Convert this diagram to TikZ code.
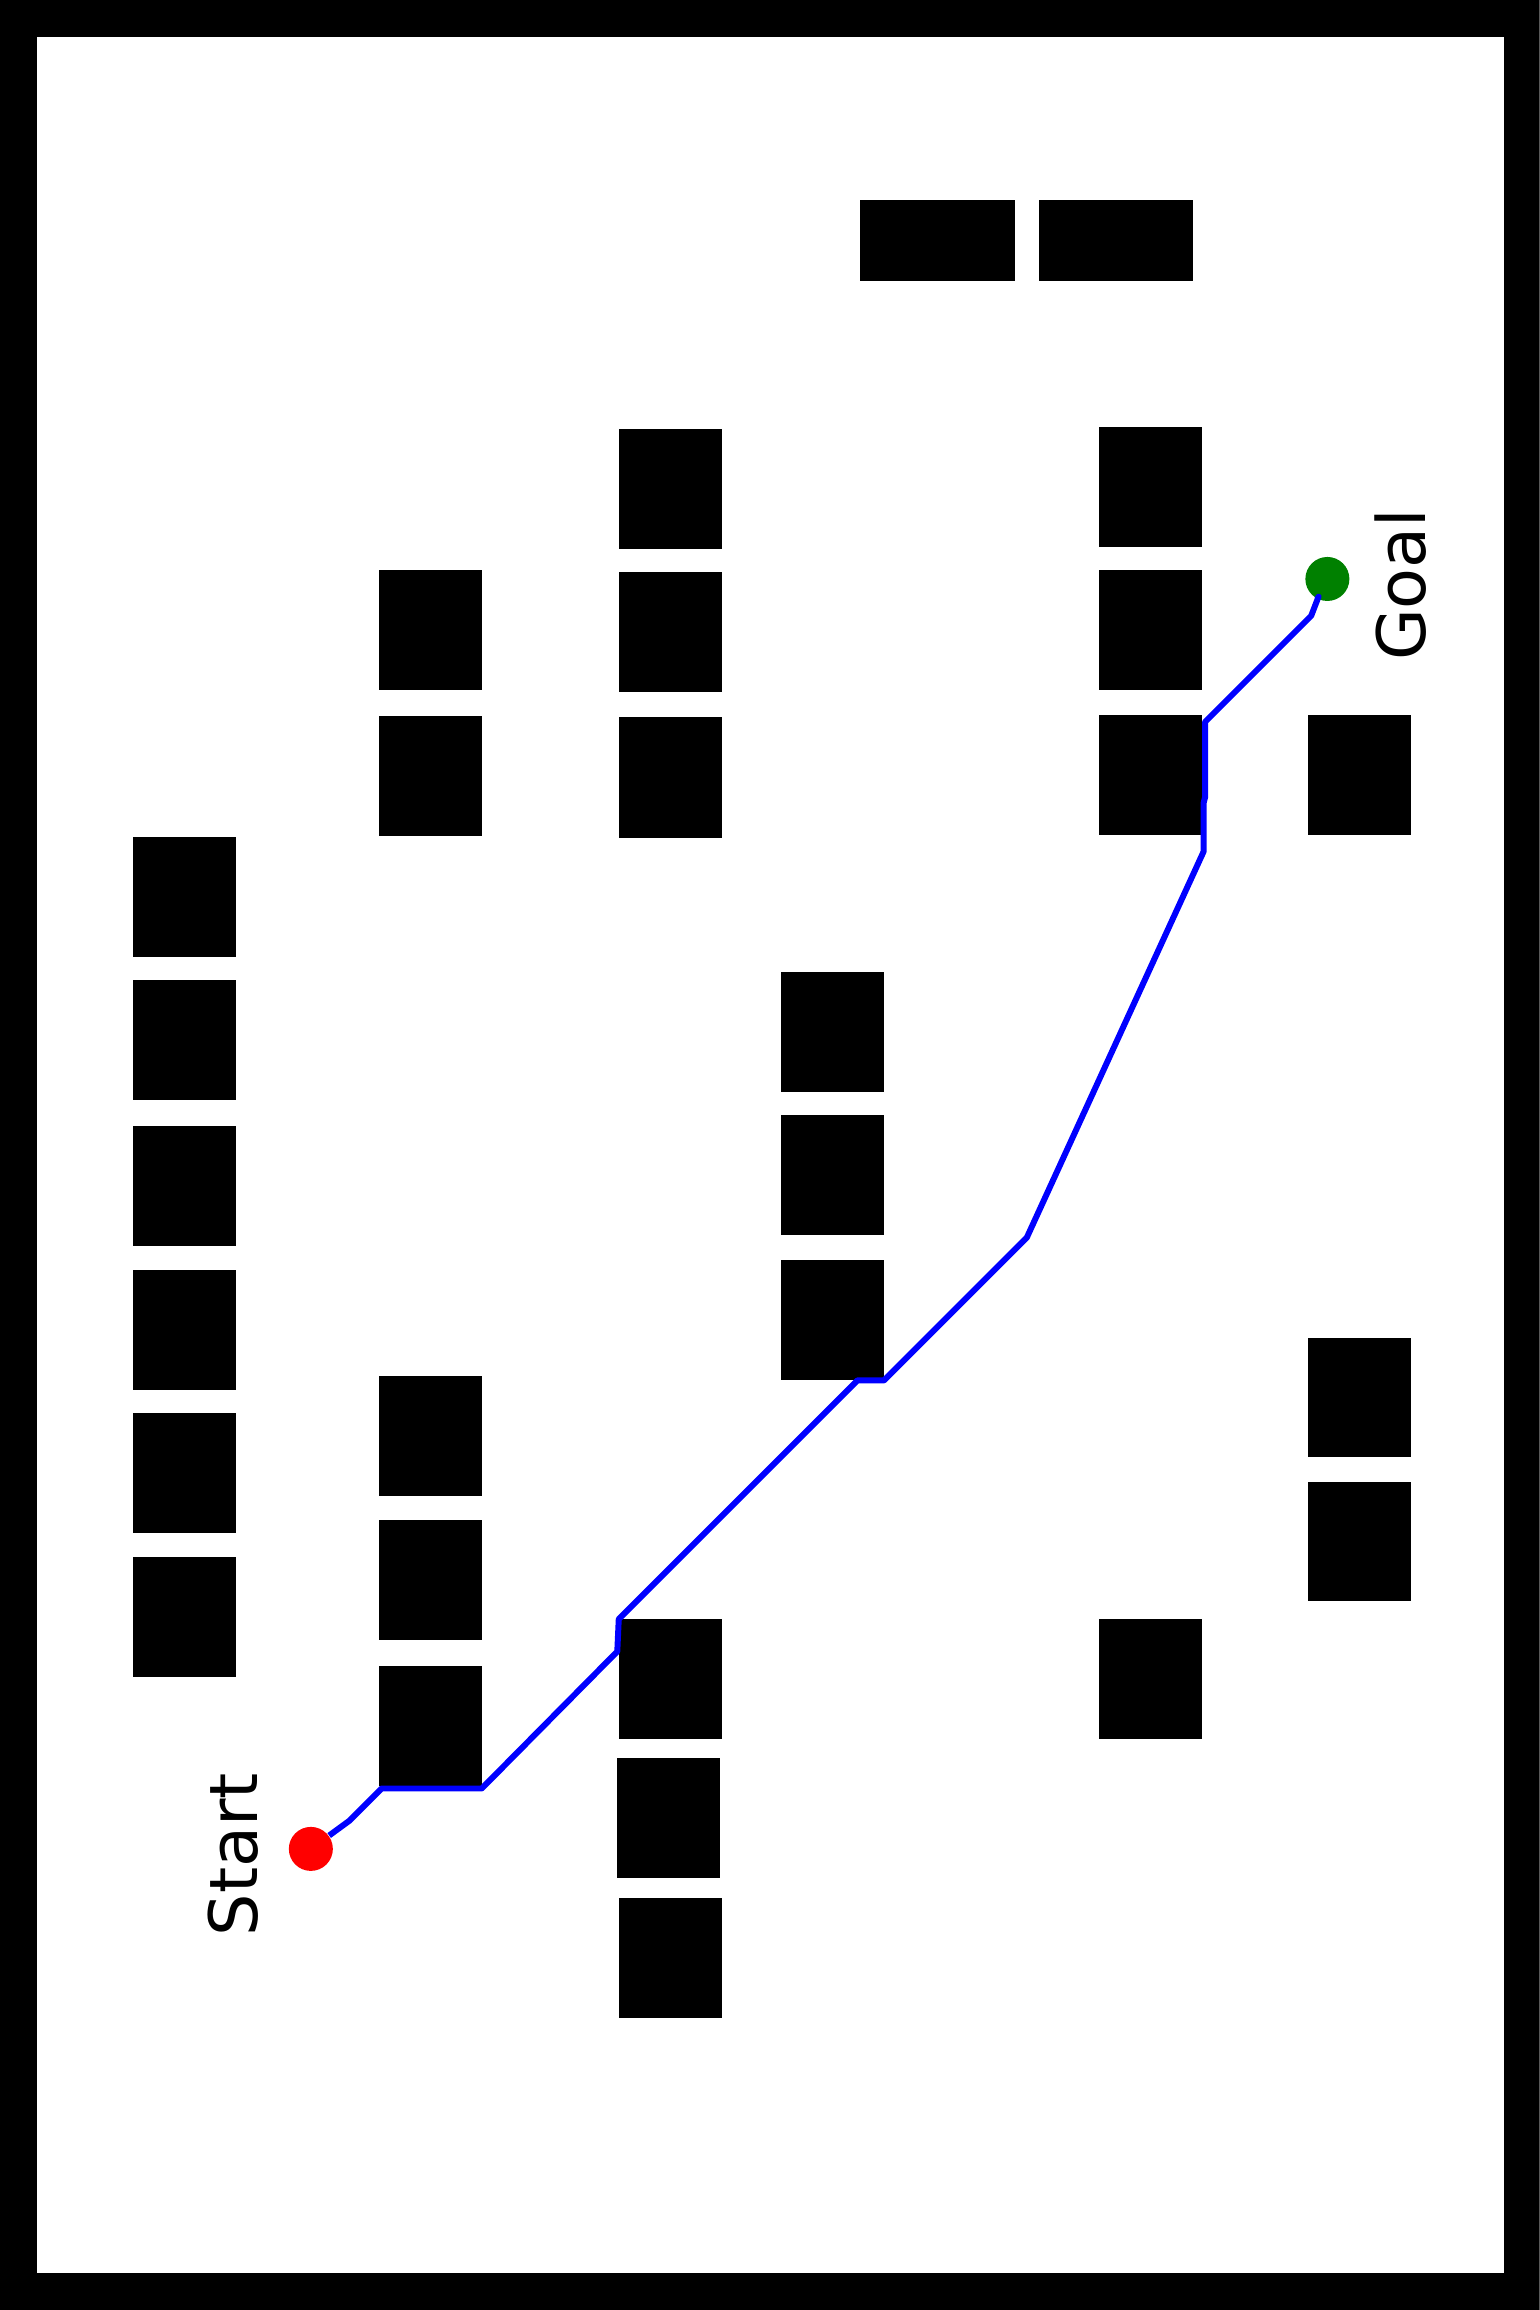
\documentclass[tikz,border=0pt]{standalone}
\usepackage{fontspec}
\setmainfont{DejaVu Sans}
\usepackage{tikz}
\usetikzlibrary{positioning}
\definecolor{startred}{HTML}{FF0000}
\definecolor{goalgreen}{HTML}{008000}
\definecolor{routeblue}{HTML}{0000FF}

\begin{document}
\begin{tikzpicture}[
  x=0.14727mm, y=-0.14727mm,
  obstacle/.style={fill=black},
  dot/.style={circle, inner sep=0pt, minimum size=4.4mm},
  route/.style={draw=routeblue, line width=1.7pt, line join=round},
  maplbl/.style={font=\fontsize{19}{23}\selectfont, rotate=90, inner sep=0pt},
]

% --- Frame -----------------------------------------------------
\fill[black, even odd rule] (0,0) rectangle (1045,1568) (25,25) rectangle (1021,1543);

% --- Obstacles -------------------------------------------------
% top pair
\fill[obstacle] (584,136) rectangle ++(105,55);
\fill[obstacle] (705,136) rectangle ++(105,55);

% far left column
\fill[obstacle] (90,568) rectangle ++(70,81.5);
\fill[obstacle] (90,665) rectangle ++(70,81.5);
\fill[obstacle] (90,764) rectangle ++(70,81.5);
\fill[obstacle] (90,862) rectangle ++(70,81.5);
\fill[obstacle] (90,959) rectangle ++(70,81.5);
\fill[obstacle] (90,1057) rectangle ++(70,81.5);

% second column
\fill[obstacle] (257,387) rectangle ++(70,81.5);
\fill[obstacle] (257,486) rectangle ++(70,81.5);
\fill[obstacle] (257,934) rectangle ++(70,81.5);
\fill[obstacle] (257,1032) rectangle ++(70,81.5);
\fill[obstacle] (257,1131) rectangle ++(70,81.5);

% third column
\fill[obstacle] (420,291) rectangle ++(70,81.5);
\fill[obstacle] (420,388) rectangle ++(70,81.5);
\fill[obstacle] (420,487) rectangle ++(70,81.5);
\fill[obstacle] (420,1099) rectangle ++(70,81.5);
\fill[obstacle] (419,1193) rectangle ++(70,81.5);
\fill[obstacle] (420,1288) rectangle ++(70,81.5);

% middle column
\fill[obstacle] (530,660) rectangle ++(70,81.5);
\fill[obstacle] (530,757) rectangle ++(70,81.5);
\fill[obstacle] (530,855) rectangle ++(70,81.5);

% right columns
\fill[obstacle] (746,290) rectangle ++(70,81.5);
\fill[obstacle] (746,387) rectangle ++(70,81.5);
\fill[obstacle] (746,485) rectangle ++(70,81.5);
\fill[obstacle] (746,1099) rectangle ++(70,81.5);
\fill[obstacle] (888,485) rectangle ++(70,81.5);
\fill[obstacle] (888,908) rectangle ++(70,81);
\fill[obstacle] (888,1006) rectangle ++(70,81);

% --- Start / goal ----------------------------------------------
\node[dot, fill=startred] (start) at (211,1255) {};
\node[dot, fill=goalgreen] (goal) at (901,393) {};
\node[maplbl] (startlbl) at (158,1259) {Start};
\node[maplbl] (goallbl) at (951,397) {Goal};

% --- Route -----------------------------------------------------
\draw[route] (start) -- (237,1236) -- (259,1214) -- (327,1214) -- (419,1121)
  -- (420,1099) -- (450,1069) -- (582,937) -- (600,937) -- (697,840)
  -- (817,578) -- (817,545) -- (818,541) -- (818,490) -- (890,418)
  -- (895,405) -- (goal);

\end{tikzpicture}
\end{document}
